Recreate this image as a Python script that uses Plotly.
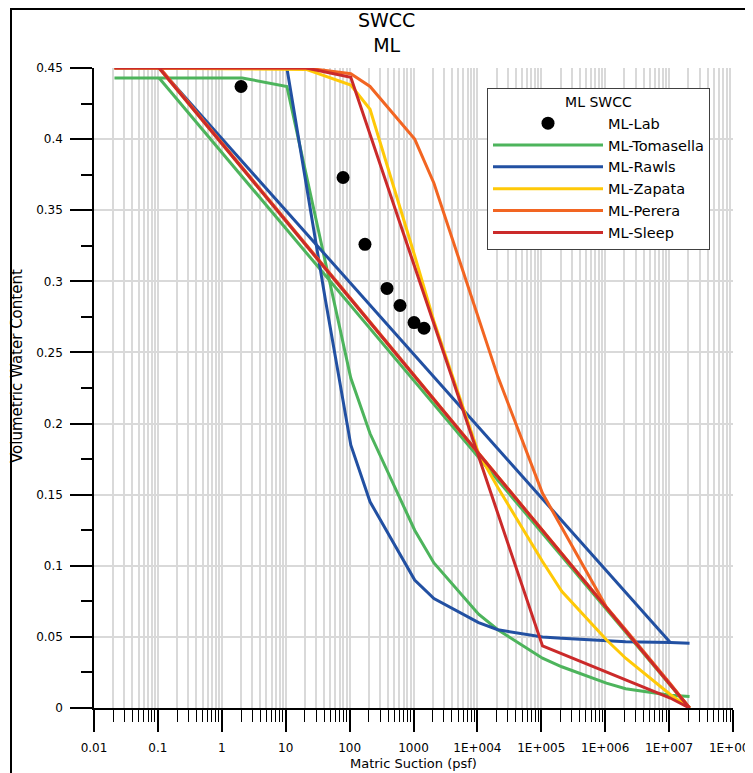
import plotly.graph_objects as go

# ---------------- data (suction in psf, volumetric water content) ----------------
lab_x = [2.0, 79, 174, 385, 615, 1020, 1460]
lab_y = [0.437, 0.373, 0.326, 0.295, 0.283, 0.271, 0.267]

tom_x = [0.0209, 2.09, 10.44, 20.9, 41.8, 104.4, 208.9, 1044, 2089, 10443, 20885,
         104427, 208854, 1044271, 2088543, 10442717, 20885434]
tom_y = [0.443, 0.443, 0.437, 0.375, 0.313, 0.232, 0.193, 0.125, 0.102, 0.066, 0.055,
         0.035, 0.029, 0.0175, 0.0135, 0.009, 0.008]
tom_lin_x = [0.1044, 20885434]
tom_lin_y = [0.443, 0.0]

raw_x = [0.0209, 10.44, 41.8, 104.4, 208.9, 1044, 2089, 10443, 20885,
         104427, 208854, 1044271, 2088543, 10442717, 20885434]
raw_y = [0.45, 0.45, 0.287, 0.185, 0.145, 0.090, 0.077, 0.060, 0.055,
         0.050, 0.049, 0.047, 0.0465, 0.046, 0.0455]
raw_lin_x = [0.1044, 10442717]
raw_lin_y = [0.45, 0.046]

zap_x = [0.0209, 20.9, 104.4, 208.9, 1044, 2089, 10443, 20885, 104427, 208854,
         1044271, 2088543, 10442717, 20885434]
zap_y = [0.45, 0.449, 0.438, 0.421, 0.318, 0.272, 0.179, 0.155, 0.103, 0.082,
         0.048, 0.035, 0.0095, 0.0]
zap_lin_x = [0.1044, 20885434]
zap_lin_y = [0.45, 0.0]

per_x = [0.0209, 20.9, 104.4, 208.9, 1044, 2089, 20885, 104427, 1044271, 2088543,
         10442717, 20885434]
per_y = [0.45, 0.45, 0.446, 0.437, 0.400, 0.369, 0.233, 0.151, 0.071, 0.055,
         0.017, 0.0]
per_lin_x = [0.108, 20885434]
per_lin_y = [0.45, 0.0]

slp_x = [0.0209, 20.9, 104.4, 104427, 10442717, 20885434]
slp_y = [0.45, 0.45, 0.4435, 0.0436, 0.007, 0.0]
slp_lin_x = [0.1044, 20885434]
slp_lin_y = [0.45, 0.0]

x_tick_vals = [0.01, 0.1, 1, 10, 100, 1000, 1e4, 1e5, 1e6, 1e7, 1e8]
x_tick_text = ["0.01", "0.1", "1", "10", "100", "1000", "1E+004", "1E+005",
               "1E+006", "1E+007", "1E+008"]

FONT = "DejaVu Sans"
GRID = "#D9D9D9"

series = [
    ("ML-Tomasella", "#4DB45C", tom_x, tom_y, tom_lin_x, tom_lin_y),
    ("ML-Rawls", "#2250A2", raw_x, raw_y, raw_lin_x, raw_lin_y),
    ("ML-Zapata", "#FFC907", zap_x, zap_y, zap_lin_x, zap_lin_y),
    ("ML-Perera", "#F26522", per_x, per_y, per_lin_x, per_lin_y),
    ("ML-Sleep", "#CB2A2A", slp_x, slp_y, slp_lin_x, slp_lin_y),
]

fig = go.Figure()
for i, (name, color, cx, cy, lx, ly) in enumerate(series):
    fig.add_trace(go.Scatter(
        x=list(cx) + [None] + list(lx),
        y=list(cy) + [None] + list(ly),
        mode="lines", name=name, connectgaps=False,
        line=dict(color=color, width=3),
        legendrank=i + 2,
    ))

fig.add_trace(go.Scatter(
    x=lab_x, y=lab_y, mode="markers", name="ML-Lab",
    marker=dict(color="black", size=13),
    legendrank=1,
))

minor_x = [d * 10 ** k for k in range(-2, 8) for d in range(2, 10)]

fig.update_xaxes(
    type="log", range=[-2, 8], automargin=False,
    tickmode="array", tickvals=x_tick_vals, ticktext=x_tick_text,
    ticks="outside", ticklen=22, tickwidth=1.5, tickcolor="black",
    showline=True, linecolor="black", linewidth=1.5,
    showgrid=True, gridcolor=GRID, gridwidth=1.5,
    zeroline=False,
    tickfont=dict(family=FONT, size=12, color="black"),
    ticklabelstandoff=6, ticklabeloverflow="allow",
    minor=dict(tickmode="array", tickvals=minor_x, ticks="outside", ticklen=12,
               tickwidth=1, tickcolor="black", showgrid=True, gridcolor=GRID,
               gridwidth=1.5),
)
fig.update_yaxes(
    range=[0, 0.45], dtick=0.05, tick0=0, automargin=False,
    ticks="outside", ticklen=22, tickwidth=1.5, tickcolor="black",
    showline=True, linecolor="black", linewidth=1.5,
    showgrid=True, gridcolor=GRID, gridwidth=1.5,
    zeroline=False,
    tickfont=dict(family=FONT, size=12, color="black"),
    ticklabelstandoff=5,
    minor=dict(dtick=0.025, tick0=0, ticks="outside", ticklen=11, tickwidth=1.5,
               tickcolor="black", showgrid=False),
)

# the page body adds an 8px offset, so the figure is 8px smaller in each direction
fig.update_layout(
    width=745, height=765,
    margin=dict(l=86, r=20, t=60, b=65),
    paper_bgcolor="white", plot_bgcolor="white",
    font=dict(family=FONT, size=12, color="black"),
    legend=dict(
        x=(487 - 94) / 639, y=(708 - 88) / 640, xanchor="left", yanchor="top",
        bgcolor="white", bordercolor="#404040", borderwidth=1,
        font=dict(family=FONT, size=14.5, color="black"),
        title=dict(text="ML SWCC", side="top center",
                   font=dict(family=FONT, size=14, color="black")),
        itemwidth=110, tracegroupgap=0,
    ),
    showlegend=True,
    annotations=[
        dict(text="SWCC<br>ML", xref="paper", yref="paper",
             x=(386 - 94) / 639, y=(708 - 32) / 640, showarrow=False,
             xanchor="center", yanchor="middle",
             font=dict(family=FONT, size=19, color="black")),
        dict(text="Volumetric Water Content", xref="paper", yref="paper",
             x=(17 - 94) / 639, y=(708 - 366) / 640, textangle=-90,
             showarrow=False, xanchor="center", yanchor="middle",
             font=dict(family=FONT, size=15, color="black")),
        dict(text="Matric Suction (psf)", xref="paper", yref="paper",
             x=0.5, y=(708 - 763) / 640, showarrow=False,
             xanchor="center", yanchor="middle",
             font=dict(family=FONT, size=13, color="black")),
    ],
    shapes=[
        dict(type="rect", xref="paper", yref="paper",
             x0=(11 - 94) / 639, x1=1.3, y0=-0.3, y1=(708 - 9) / 640,
             line=dict(color="black", width=2), fillcolor="rgba(0,0,0,0)",
             layer="above"),
    ],
)

fig.write_html("out.html")
